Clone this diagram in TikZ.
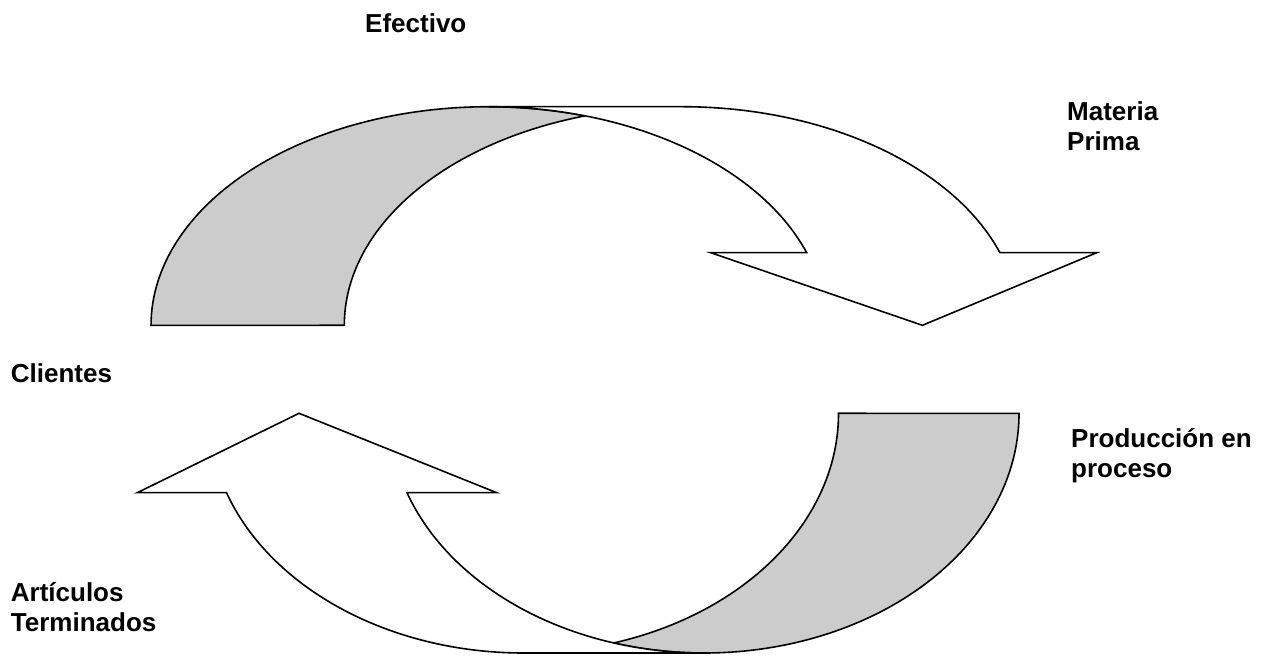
\documentclass[tikz,border=0pt]{standalone}
\usepackage{fontspec}
\setmainfont{Liberation Sans}
\definecolor{backgray}{HTML}{CCCCCC}
\tikzset{
  frontband/.style={draw=black, fill=white, line width=1.6pt},
  backband/.style={draw=black, fill=backgray, line width=1.6pt},
  lbl/.style={anchor=base west, inner sep=0pt, font=\fontsize{26}{30}\selectfont\bfseries}
}
\begin{document}
\begin{tikzpicture}[x=1pt, y=1pt]
\useasboundingbox (0,0) rectangle (1271,656);

% upper curved arrow: two equal ellipses, centres (488.4,330.7) and (681.7,330.7)
\path[backband] (585.1,540.1)
  arc[start angle=73.35, end angle=180, x radius=337.4, y radius=218.6]
  -- (344.3,330.7)
  arc[start angle=180, end angle=106.65, x radius=337.4, y radius=218.6]
  -- cycle;
\path[frontband] (922.4,330.7) -- (710.7,403.3) -- (806.7,403.3)
  arc[start angle=19.40, end angle=90, x radius=337.4, y radius=218.6]
  -- (681.7,549.3)
  arc[start angle=90, end angle=19.40, x radius=337.4, y radius=218.6]
  -- (1096.7,403.3) -- cycle;

% lower curved arrow: centres (704.1,242.7) and (523.6,242.7)
\path[backband] (613.9,13.05)
  arc[start angle=253.35, end angle=360, x radius=314.9, y radius=239.7]
  -- (838.5,242.7)
  arc[start angle=360, end angle=286.65, x radius=314.9, y radius=239.7]
  -- cycle;
\path[frontband] (299,242.7) -- (496.7,163.3) -- (407.0,163.3)
  arc[start angle=199.34, end angle=270, x radius=314.9, y radius=239.7]
  -- (523.6,3.0)
  arc[start angle=270, end angle=199.34, x radius=314.9, y radius=239.7]
  -- (137.3,163.3) -- cycle;

% labels
\node[lbl] (efectivo) at (365,623.7) {Efectivo};
\node[lbl] (materia) at (1067,535) {Materia};
\node[lbl] (prima) at (1067,505) {Prima};
\node[lbl] (clientes) at (10.7,273.3) {Clientes};
\node[lbl] (produccion) at (1071,208) {Producción en};
\node[lbl] (proceso) at (1071,178) {proceso};
\node[lbl] (articulos) at (10.7,54.3) {Artículos};
\node[lbl] (terminados) at (10.7,24.3) {Terminados};
\end{tikzpicture}
\end{document}
